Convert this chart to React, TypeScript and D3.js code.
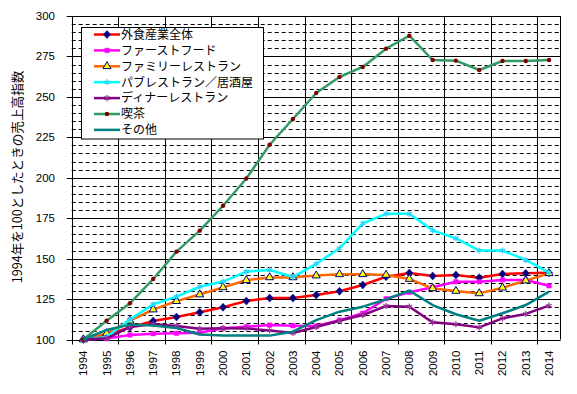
import React from "react";
import * as d3 from "d3";

const years = ["1994","1995","1996","1997","1998","1999","2000","2001","2002","2003","2004","2005","2006","2007","2008","2009","2010","2011","2012","2013","2014"];
const yTicks = [100, 125, 150, 175, 200, 225, 250, 275, 300];

const total = [100,103,107.5,111.4,113.9,116.8,119.9,123.8,125.6,125.6,127.5,129.8,133.7,138.8,141.1,139.3,139.9,138.2,140.5,140.9,141.3];
const fastFood = [100,100.6,102.8,103.6,103.8,104.2,106.9,107.9,108.9,108.5,108.3,112,116.2,125.2,129.2,132.3,135.7,135.7,136.8,136.8,133.2];
const family = [100,103.8,111.6,118.5,123.7,127.8,132.2,136.6,138.4,138.4,139.5,140.3,140.3,139.9,137.4,131.6,130,128.5,132,136.4,140.9];
const pub = [100,101.5,112.3,121.8,126.5,132.6,135.8,142,143,138.6,146.8,156.4,171.8,177.7,177.7,167.5,162.5,155,155,149.2,141.4];
const dinner = [100,100.7,107.7,109.5,108.4,106.7,106.9,106.8,105.6,104,107.7,111.6,115.1,120.7,120.3,110.6,109.4,107.5,113.1,115.8,120.9];
const kissa = [100,111.6,122.4,137.4,154.3,167.3,182.7,199.5,220.4,236.3,252.4,262.3,268.5,279.8,287.8,272.8,272.4,266.6,272.2,272.2,272.8];
const other = [100,105.9,109.2,108.7,107.1,103.1,102.5,102.4,102.4,104.8,112,117.2,120.3,124.8,130.2,121.3,115.6,111.6,116.2,121.3,129.6];

type Series = { name: string; values: number[]; color: string; marker: string; mfill: string; mstroke: string };
const series: Series[] = [
  { name: "外食産業全体", values: total, color: "#FF0000", marker: "diamond", mfill: "#000080", mstroke: "#000080" },
  { name: "ファーストフード", values: fastFood, color: "#FF00FF", marker: "square", mfill: "#FF00FF", mstroke: "#FF00FF" },
  { name: "ファミリーレストラン", values: family, color: "#FF6600", marker: "triangle", mfill: "#FFFF00", mstroke: "#000080" },
  { name: "パブレストラン／居酒屋", values: pub, color: "#00FFFF", marker: "asterisk", mfill: "none", mstroke: "#33CCFF" },
  { name: "ディナーレストラン", values: dinner, color: "#800080", marker: "asterisk", mfill: "none", mstroke: "#993399" },
  { name: "喫茶", values: kissa, color: "#339966", marker: "circle", mfill: "#800000", mstroke: "#800000" },
  { name: "その他", values: other, color: "#008080", marker: "none", mfill: "none", mstroke: "none" },
];

const W = 577, H = 394;
const plot = { left: 71.7, right: 560.7, top: 16, bottom: 339.5 };

function Marker({ type, x, y, fill, stroke }: { type: string; x: number; y: number; fill: string; stroke: string }) {
  if (type === "none") return null;
  if (type === "circle") return <circle cx={x} cy={y} r={2.2} fill={fill} />;
  if (type === "diamond") {
    const d = "M0,-4L3.6,0L0,4L-3.6,0Z";
    return <path d={d} transform={`translate(${x},${y})`} fill={fill} stroke={stroke} strokeWidth={0.5} />;
  }
  let sym: any = d3.symbolSquare, size = 20;
  if (type === "triangle") { sym = d3.symbolTriangle; size = 28; }
  if (type === "asterisk") { sym = d3.symbolAsterisk; size = 26; }
  const d = d3.symbol().type(sym).size(size)() || "";
  if (type === "asterisk") return <path d={d} transform={`translate(${x},${y})`} fill="none" stroke={stroke} strokeWidth={1.2} />;
  return <path d={d} transform={`translate(${x},${y})`} fill={fill} stroke={stroke} strokeWidth={type === "triangle" ? 1 : 0.5} />;
}

export default function App() {
  const x = d3.scaleBand<string>().domain(years).range([plot.left, plot.right]);
  const y = d3.scaleLinear().domain([100, 300]).range([plot.bottom, plot.top]);
  const bw = x.bandwidth();
  const cx = (yr: string) => (x(yr) as number) + bw / 2;
  const line = d3.line<number>().x((_, i) => cx(years[i])).y((v) => y(v));

  const minor: number[] = d3.range(105, 300, 5).filter((v) => v % 25 !== 0);
  const boundaries = years.filter((_, i) => i % 2 === 0).map((yr) => x(yr) as number);
  const font = "'Liberation Sans', Arial, sans-serif";
  const jfont = "'Noto Sans CJK JP', sans-serif";

  return (
    <svg width={W} height={H} style={{ position: "absolute", left: 0, top: 0, background: "#fff" }}>
      <rect x={0} y={0} width={W} height={H} fill="#fff" />
      {minor.map((v) => (
        <line key={"m" + v} x1={plot.left} x2={plot.right} y1={Math.round(y(v)) + 0.5} y2={Math.round(y(v)) + 0.5} stroke="#000" strokeWidth={1} strokeDasharray="4 3" />
      ))}
      {yTicks.map((v) => (
        <line key={"g" + v} x1={plot.left - 5} x2={plot.right} y1={Math.round(y(v)) + 0.5} y2={Math.round(y(v)) + 0.5} stroke="#000" strokeWidth={1} />
      ))}
      {boundaries.map((bx, i) => (
        <line key={"v" + i} x1={Math.round(bx) + 0.5} x2={Math.round(bx) + 0.5} y1={plot.top} y2={plot.bottom + 5} stroke="#000" strokeWidth={1} />
      ))}
      <line x1={Math.round(plot.right) - 0.5} x2={Math.round(plot.right) - 0.5} y1={plot.top} y2={plot.bottom} stroke="#000" strokeWidth={1} />

      {yTicks.map((v) => (
        <text key={"yl" + v} x={55} y={y(v)} dy="0.35em" textAnchor="end" fontFamily={font} fontSize={11.5} fill="#000">{v}</text>
      ))}
      {years.map((yr) => (
        <text key={"xl" + yr} transform={`translate(${cx(yr) + 4},${plot.bottom + 11}) rotate(-90)`} textAnchor="end" fontFamily={font} fontSize={11.5} fill="#000">{yr}</text>
      ))}
      <text transform={`translate(16,177) rotate(-90)`} textAnchor="middle" dominantBaseline="central" fontFamily={jfont} fontSize={12.6} fill="#000">1994年を100としたときの売上高指数</text>

      {series.map((s) => (
        <g key={s.name}>
          <path d={line(s.values) || ""} fill="none" stroke={s.color} strokeWidth={2.5} strokeLinejoin="round" />
          {s.values.map((v, i) => (
            <Marker key={i} type={s.marker} x={cx(years[i])} y={y(v)} fill={s.mfill} stroke={s.mstroke} />
          ))}
        </g>
      ))}

      <rect x={81.5} y={27.5} width={182} height={111.5} fill="#fff" stroke="#000" strokeWidth={1} />
      {series.map((s, i) => {
        const ly = 34.5 + i * 15.9;
        return (
          <g key={"lg" + s.name}>
            <line x1={94} x2={120} y1={ly} y2={ly} stroke={s.color} strokeWidth={2.5} />
            <Marker type={s.marker} x={107} y={ly} fill={s.mfill} stroke={s.mstroke} />
            <text x={121} y={ly} dy="0.36em" fontFamily={jfont} fontSize={12} fill="#000">{s.name}</text>
          </g>
        );
      })}
    </svg>
  );
}
